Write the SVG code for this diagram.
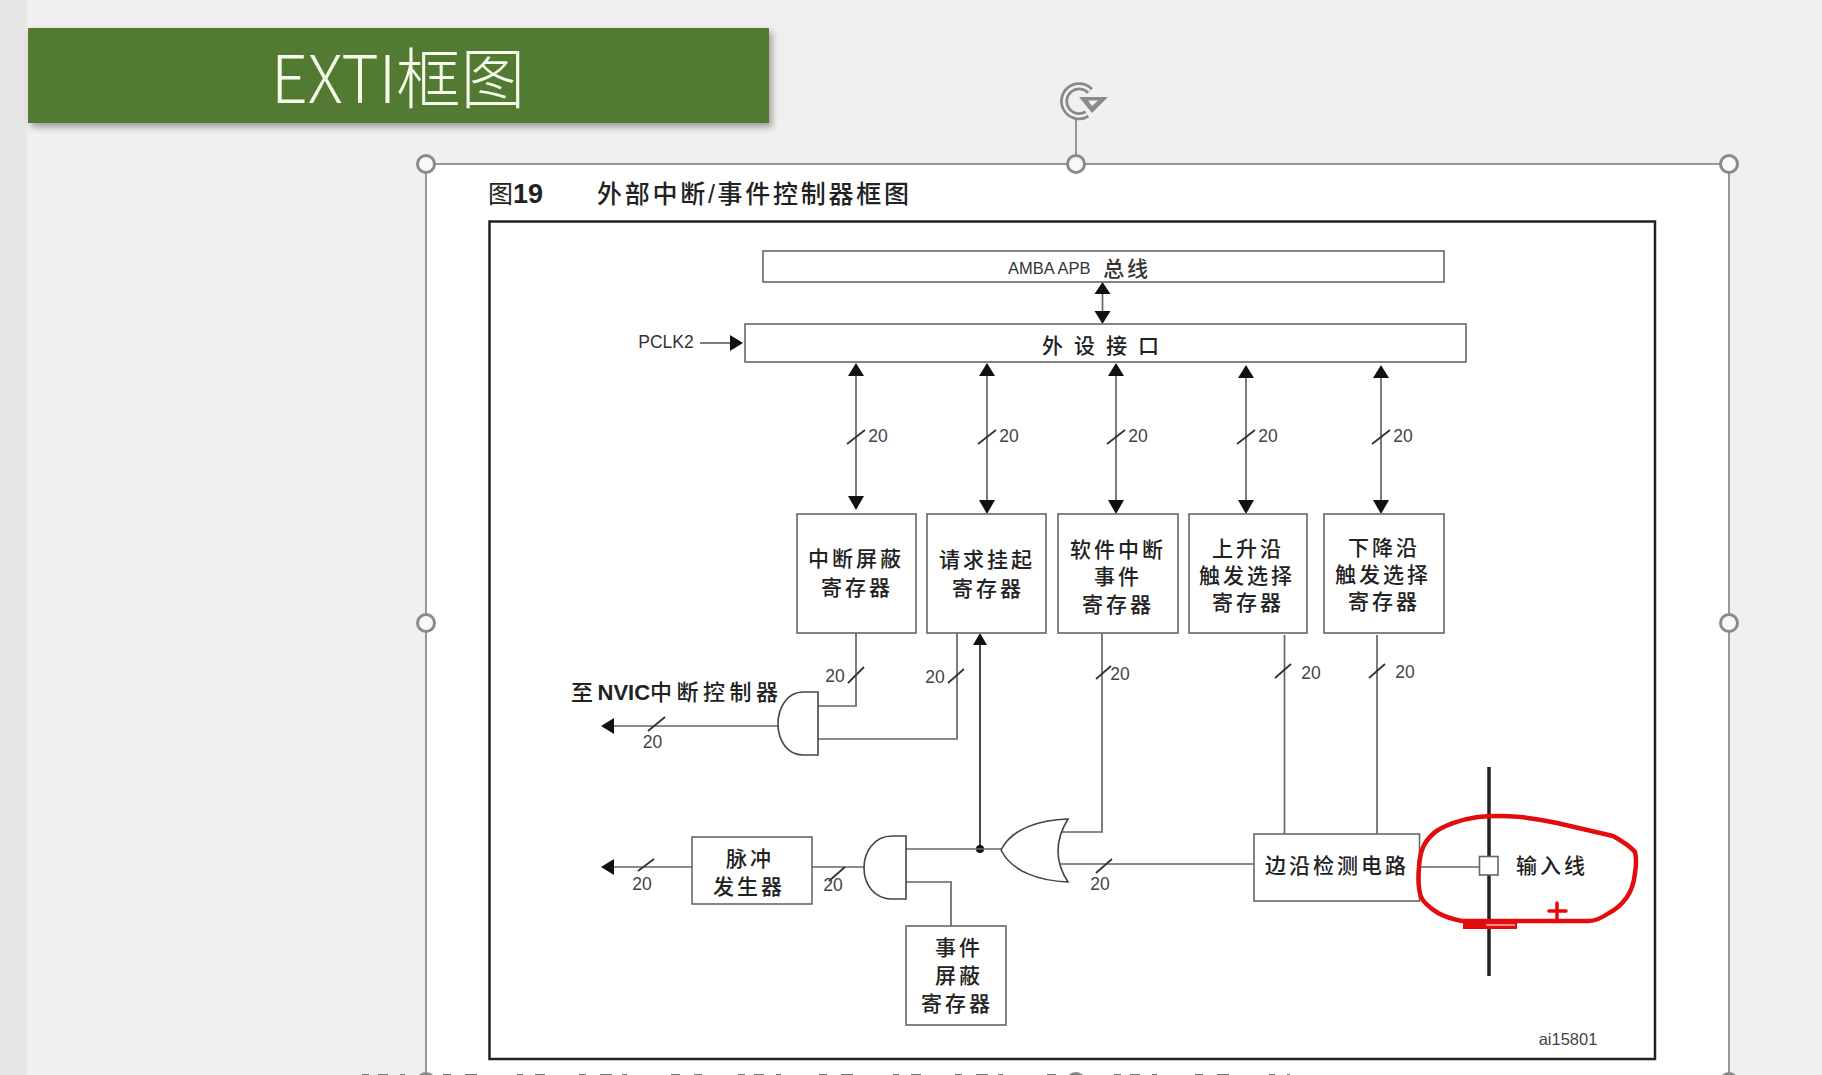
<svg xmlns="http://www.w3.org/2000/svg" width="1822" height="1075" viewBox="0 0 1822 1075">
<style>
text{font-family:"Liberation Sans","Noto Sans CJK SC",sans-serif;fill:#333;text-anchor:middle;dominant-baseline:central}
.cn{font-size:21px;letter-spacing:3px;fill:#222;font-weight:500}
.n{font-size:17.500px;fill:#444}
.box{fill:#fff;stroke:#666;stroke-width:1.6}
.ln{fill:none;stroke:#666;stroke-width:1.7}
.dk{fill:none;stroke:#333;stroke-width:1.8}
.gate{fill:#fff;stroke:#444;stroke-width:1.6}
.ah{fill:#111}
.hd{fill:#f8f8f8;stroke:#8a8a8a;stroke-width:3}
.sel{fill:none;stroke:#808080;stroke-width:1.6}
.red{fill:none;stroke:#e30b0b;stroke-width:4.500;stroke-linejoin:round;stroke-linecap:round}
</style>
<defs>
<filter id="sh" x="-5%" y="-20%" width="110%" height="150%"><feDropShadow dx="3" dy="4" stdDeviation="3.5" flood-color="#000" flood-opacity=".35"/></filter>
</defs>
<rect width="1822" height="1075" fill="#f0f0f0"/>
<rect width="27" height="1075" fill="#e6e6e6"/>
<g id="title">
<rect x="28" y="28" width="741" height="95" fill="#527a30" filter="url(#sh)"/>
<text x="398" y="74" style="font-size:66px;font-weight:300;font-family:'Noto Sans CJK SC',sans-serif;fill:#f6fae8" textLength="254" lengthAdjust="spacingAndGlyphs">EXTI框图</text>
</g>
<g id="selection">
<rect x="426" y="164" width="1303" height="930" fill="#fff" stroke="#808080" stroke-width="1.6"/>
<path class="sel" d="M1076 118V164"/>
<g id="rotate">
<path d="M1090 91A15 15 0 1 0 1087 114" fill="none" stroke="#8a8a8a" stroke-width="8"/>
<path d="M1090 91A15 15 0 1 0 1087 114" fill="none" stroke="#f4f4f4" stroke-width="2.500"/>
<path d="M1079 97H1108L1092 113Z" fill="#8a8a8a"/>
<path d="M1088 100.500H1098L1092 106Z" fill="#f4f4f4"/>
</g>
<circle class="hd" cx="426" cy="164" r="8.500"/>
<circle class="hd" cx="1076" cy="164" r="8.500"/>
<circle class="hd" cx="1729" cy="164" r="8.500"/>
<circle class="hd" cx="426" cy="623" r="8.500"/>
<circle class="hd" cx="1729" cy="623" r="8.500"/>
<circle class="hd" cx="426" cy="1082" r="8.500"/>
<circle class="hd" cx="1076" cy="1082" r="8.500"/>
<circle class="hd" cx="1729" cy="1082" r="8.500"/>
</g>
<g id="caption">
<text x="488" y="194" style="font-size:25px;fill:#222;text-anchor:start">图<tspan style="font-size:27px;font-weight:700">19</tspan></text>
<text x="753" y="194" style="font-size:25px;fill:#222;font-weight:500" textLength="312">外部中断/事件控制器框图</text>
</g>
<rect id="frame" x="489.500" y="221.500" width="1165.500" height="837.500" fill="#fff" stroke="#222" stroke-width="2.500"/>
<path id="cutoff-row" d="M362 1074.500H1290" stroke="#777" stroke-width="1.200" fill="none" stroke-dasharray="7 9 10 12 5 38 8 14 12 40 6 12 10 34 7 14 12 10 5 44 9 14 8 36"/>
<g id="connectors">
<path class="ln" d="M1102.500 290V314"/>
<path class="ah" d="M1102.500 282l-8 12h16zM1102.500 324l-8-13h16z"/>
<path class="ln" d="M700 343H730"/>
<path class="ah" d="M743 343l-13-8v16z"/>
<path class="ln" d="M856 370V505M987 370V508M1116 370V508M1246 370V508M1381 370V508"/>
<path class="ah" d="M856 363l-8 13h16zM987 363l-8 13h16zM1116 363l-8 13h16zM1246 365l-8 13h16zM1381 365l-8 13h16z"/>
<path class="ah" d="M856 510l-8-14h16zM987 514l-8-14h16zM1116 514l-8-14h16zM1246 514l-8-14h16zM1381 514l-8-14h16z"/>
<path class="dk" d="M847 444L865 430M978 444L996 430M1107 444L1125 430M1237 444L1255 430M1372 444L1390 430"/>
<path class="ln" d="M856 633V706H818M957 633V739H818M778 726H614"/>
<path class="ah" d="M601 726l13-8v16z"/>
<path class="dk" d="M848 683L864 667M948 683L964 669M648 731L665 717"/>
<path class="dk" d="M980 849V644"/>
<path class="ah" d="M980 633l-7 12h14z"/>
<circle cx="980" cy="849" r="4" fill="#111"/>
<path class="ln" d="M906 849H1002M1062 832H1102V633M1060 864H1254M1284.500 635V834M1377 635V834M1419 867H1479"/>
<path class="dk" d="M1096 679L1111 666M1096 873L1112 859M1275 678L1291 664M1369 678L1385 664"/>
<path class="ln" d="M906 882H951V926M864 867H812M692 867H614"/>
<path class="ah" d="M601 867l13-8v16z"/>
<path class="dk" d="M829 881L845 867M638 871L654 859"/>
</g>
<g id="amba"><rect class="box" x="763" y="251" width="681" height="31"/><text x="1008" y="268" style="font-size:16.500px;text-anchor:start">AMBA APB <tspan dx="8" style="font-size:21px;font-weight:500;letter-spacing:3px">总线</tspan></text></g>
<g id="periph"><rect class="box" x="745" y="324" width="721" height="38"/><text x="1102" y="345" class="cn" textLength="120">外设接口</text></g>
<text id="pclk" x="666" y="342" style="font-size:17.500px">PCLK2</text>
<g id="reg1"><rect class="box" x="797" y="514" width="119" height="119"/><text class="cn" x="856" y="558">中断屏蔽</text><text class="cn" x="857" y="587">寄存器</text></g>
<g id="reg2"><rect class="box" x="927" y="514" width="119" height="119"/><text class="cn" x="987" y="559">请求挂起</text><text class="cn" x="988" y="588">寄存器</text></g>
<g id="reg3"><rect class="box" x="1058" y="514" width="120" height="119"/><text class="cn" x="1118" y="549">软件中断</text><text class="cn" x="1118" y="576">事件</text><text class="cn" x="1118" y="604">寄存器</text></g>
<g id="reg4"><rect class="box" x="1189" y="514" width="118" height="119"/><text class="cn" x="1248" y="548">上升沿</text><text class="cn" x="1247" y="575">触发选择</text><text class="cn" x="1248" y="602">寄存器</text></g>
<g id="reg5"><rect class="box" x="1324" y="514" width="120" height="119"/><text class="cn" x="1384" y="547">下降沿</text><text class="cn" x="1383" y="574">触发选择</text><text class="cn" x="1384" y="601">寄存器</text></g>
<g id="and1"><path class="gate" d="M818 692H803C787 692 778 708 778 724S787 755 803 755H818Z"/></g>
<g id="and2"><path class="gate" d="M906 836H892C874 836 864 852 864 868S874 899 892 899H906Z"/></g>
<g id="or1"><path class="gate" d="M1068 819C1040 820 1012 828 1001 850C1012 872 1040 881 1068 882C1055 862 1055 840 1068 819Z"/></g>
<g id="pulse"><rect class="box" x="692" y="837" width="120" height="67"/><text class="cn" x="750" y="858">脉冲</text><text class="cn" x="749" y="886">发生器</text></g>
<g id="evmask"><rect class="box" x="906" y="926" width="100" height="99"/><text class="cn" x="959" y="947">事件</text><text class="cn" x="959" y="975">屏蔽</text><text class="cn" x="957" y="1003">寄存器</text></g>
<g id="edge"><rect class="box" x="1254" y="834" width="165.500" height="67"/><text class="cn" x="1337" y="865">边沿检测电路</text></g>
<g id="input">
<path d="M1489 767V976" stroke="#222" stroke-width="3.500" fill="none"/>
<rect x="1479.500" y="856.500" width="18.500" height="18.500" fill="#fff" stroke="#666" stroke-width="1.600"/>
<text class="cn" x="1552" y="865" textLength="72">输入线</text>
</g>
<g id="labels">
<text class="n" x="878" y="436">20</text><text class="n" x="1009" y="436">20</text><text class="n" x="1138" y="436">20</text><text class="n" x="1268" y="436">20</text><text class="n" x="1403" y="436">20</text>
<text class="n" x="835" y="676">20</text><text class="n" x="935" y="677">20</text><text class="n" x="1120" y="674">20</text><text class="n" x="1311" y="673">20</text><text class="n" x="1405" y="672">20</text>
<text class="n" x="652.500" y="742">20</text><text class="n" x="642" y="884">20</text><text class="n" x="833" y="885">20</text><text class="n" x="1100" y="884">20</text>
<text x="571" y="692" style="font-size:22px;fill:#222;font-weight:500;text-anchor:start;letter-spacing:4.500px">至<tspan style="font-weight:700;letter-spacing:0">NVIC</tspan>中断控制器</text>
<text x="1568" y="1039" style="font-size:16.500px;fill:#444">ai15801</text>
</g>
<g id="annotation">
<path class="red" d="M1419 867C1420 850 1424 842 1434 833C1442 826 1462 819 1478 817C1495 815 1510 816 1521 817C1535 819 1545 820 1557 823L1613 836C1622 841 1630 846 1635 852C1637 860 1636 866 1635 873C1634 882 1632 890 1627 897C1622 904 1615 910 1609 913C1600 919 1595 921 1589 921H1462C1452 919 1445 917 1438 913C1430 908 1424 903 1421 897C1418 888 1418 878 1419 867Z"/>
<path d="M1463 925.500H1517" stroke="#e30b0b" stroke-width="7" fill="none"/>
<path d="M1486 925H1515" stroke="#fbe0e0" stroke-width="1.200" fill="none"/>
<path class="red" d="M1549 911H1566M1557 903V920" style="stroke-width:3.500"/>
</g>
</svg>
